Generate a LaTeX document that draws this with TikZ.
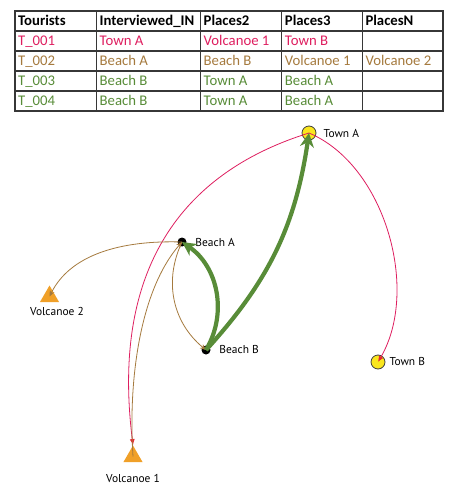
\documentclass[tikz,border=0pt]{standalone}
\usepackage{fontspec}
\setmainfont{Carlito}
\newfontfamily\placefont{PT Sans}
\usetikzlibrary{shapes.geometric, arrows.meta, positioning}
\definecolor{tourpink}{RGB}{222,30,95}
\definecolor{tourbrown}{RGB}{165,122,62}
\definecolor{tourgreen}{RGB}{88,140,56}
\definecolor{townyellow}{RGB}{250,230,30}
\definecolor{lavaorange}{RGB}{240,160,40}
\definecolor{gridgray}{RGB}{55,55,55}
\definecolor{arrowred}{RGB}{230,40,50}

\tikzset{
  grid line/.style={gridgray, line width=1.5bp},
  cell/.style={anchor=base west, inner sep=0pt, font=\fontsize{14.8}{16}\selectfont},
  town/.style={circle, draw=black!75, fill=townyellow, line width=0.8bp, minimum size=14bp, inner sep=0pt},
  beach/.style={circle, fill=black, minimum size=9bp, inner sep=0pt},
  volcano/.style={regular polygon, regular polygon sides=3, fill=lavaorange, minimum size=22bp, inner sep=0pt},
  place/.style={font=\placefont\fontsize{11.5}{13}\selectfont, inner sep=0pt},
  pinkroute/.style={tourpink, line width=0.8bp, -{Latex[length=6bp,width=5bp,color=arrowred]}},
  brownroute/.style={tourbrown, line width=0.8bp, -{Stealth[length=6bp,width=5bp]}},
  greenroute/.style={tourgreen, line width=4.2bp, -{Stealth[length=14bp,width=14bp,inset=4.5bp]}}
}

\begin{document}
\begin{tikzpicture}[x=1bp, y=1bp]
\useasboundingbox (0,0) rectangle (463,-493);

% Table grid
\draw[grid line] (15,-11) rectangle (443,-111);
\foreach \y in {31,51,71,91} \draw[grid line] (15,-\y) -- (443,-\y);
\foreach \x in {96.5,200.5,281.7,362.3} \draw[grid line] (\x,-11) -- (\x,-111);

% Header
\node[cell] (hTour) at (18,-26) {\textbf{Tourists}};
\node[cell] (hIn) at (99.5,-26) {\textbf{Interviewed\_IN}};
\node[cell] (hP2) at (203.5,-26) {\textbf{Places2}};
\node[cell] (hP3) at (284.7,-26) {\textbf{Places3}};
\node[cell] (hPN) at (365.3,-26) {\textbf{PlacesN}};

% Tourist 1
\node[cell, tourpink] (t1tour) at (18,-46) {T\_001};
\node[cell, tourpink] (t1in) at (99.5,-46) {Town A};
\node[cell, tourpink] (t1p2) at (203.5,-46) {Volcanoe 1};
\node[cell, tourpink] (t1p3) at (284.7,-46) {Town B};

% Tourist 2
\node[cell, tourbrown] (t2tour) at (18,-66) {T\_002};
\node[cell, tourbrown] (t2in) at (99.5,-66) {Beach A};
\node[cell, tourbrown] (t2p2) at (203.5,-66) {Beach B};
\node[cell, tourbrown] (t2p3) at (284.7,-66) {Volcanoe 1};
\node[cell, tourbrown] (t2pn) at (365.3,-66) {Volcanoe 2};

% Tourists 3 and 4
\node[cell, tourgreen] (t3tour) at (18,-86) {T\_003};
\node[cell, tourgreen] (t3in) at (99.5,-86) {Beach B};
\node[cell, tourgreen] (t3p2) at (203.5,-86) {Town A};
\node[cell, tourgreen] (t3p3) at (284.7,-86) {Beach A};
\node[cell, tourgreen] (t4tour) at (18,-106) {T\_004};
\node[cell, tourgreen] (t4in) at (99.5,-106) {Beach B};
\node[cell, tourgreen] (t4p2) at (203.5,-106) {Town A};
\node[cell, tourgreen] (t4p3) at (284.7,-106) {Beach A};

% Places
\node[town] (townA) at (309,-133) {};
\node[town] (townB) at (378,-362) {};
\node[beach] (beachA) at (182,-242) {};
\node[beach] (beachB) at (206,-350) {};
\node[volcano] (volc1) at (133,-456.5) {};
\node[volcano] (volc2) at (49.5,-296.5) {};

\node[place, right=7bp of townA] (townAlbl) {Town A};
\node[place, right=4bp of townB] (townBlbl) {Town B};
\node[place, right=8.5bp of beachA] (beachAlbl) {Beach A};
\node[place, right=8.5bp of beachB] (beachBlbl) {Beach B};
\node[place, below=12bp of volc1] (volc1lbl) {Volcanoe 1};
\node[place, below=5bp of volc2, xshift=7.5bp] (volc2lbl) {Volcanoe 2};

% Routes
\draw[pinkroute] (townA.center) .. controls (190,-170) and (110,-260) .. (volc1.north);
\draw[pinkroute] (townA.center) .. controls (385,-165) and (420,-290) .. (townB.center);
\draw[brownroute] (beachA.center) to[bend right=38] (beachB.center);
\draw[brownroute, {Stealth[length=6bp,width=5bp]}-] (beachA.center) .. controls (140,-290) and (128,-380) .. (volc1.center);
\draw[brownroute] (beachA.center) .. controls (120,-240) and (70,-255) .. (volc2.center);
\draw[greenroute] (beachB.center) to[bend right=43] (beachA.center);
\draw[greenroute] (beachB.center) to[bend right=17] (townA.center);
\end{tikzpicture}
\end{document}
